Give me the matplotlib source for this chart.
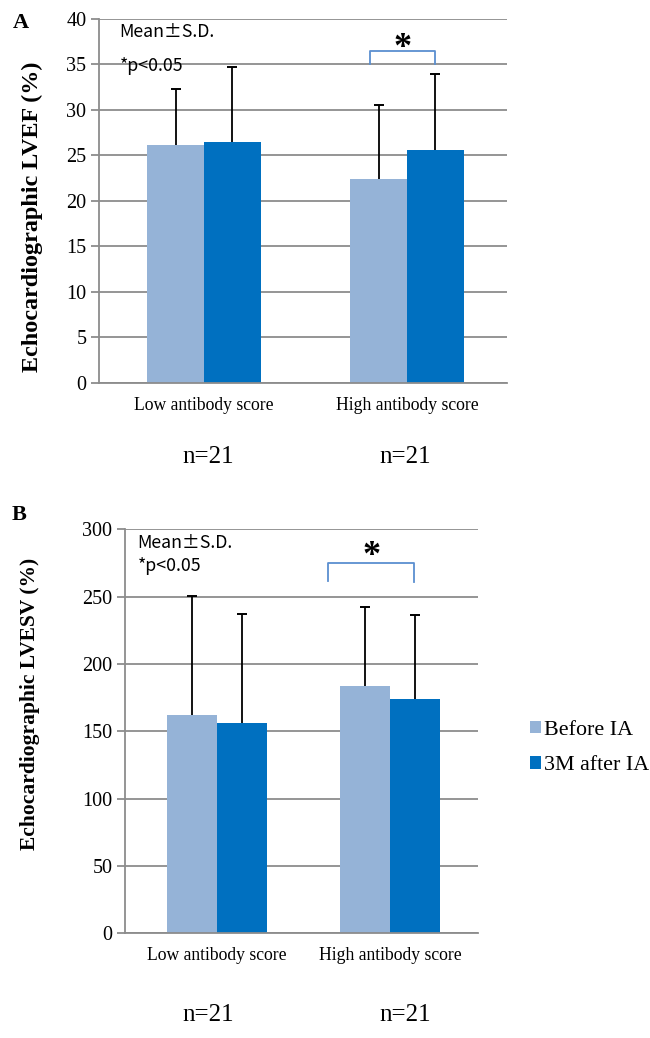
import numpy as np
import matplotlib as mpl
mpl.use('Agg')
import matplotlib.pyplot as plt

# data
groups = ['Low antibody score', 'High antibody score']
series = ['Before IA', '3M after IA']
n_labels = ['n=21', 'n=21']

lvef_before = [26.1, 22.4]
lvef_before_sd = [6.2, 8.1]
lvef_after = [26.5, 25.6]
lvef_after_sd = [8.2, 8.3]

lvesv_before = [162.1, 183.6]
lvesv_before_sd = [88.3, 58.7]
lvesv_after = [155.9, 173.7]
lvesv_after_sd = [80.9, 62.6]

light = '#95B3D7'
dark = '#0070C0'
grid_c = '#8c8c8c'
bracket_c = '#5b8fd0'
serif = ['Liberation Serif', 'DejaVu Serif']
sans = ['Noto Sans CJK JP', 'DejaVu Sans']


def upper_err(ax, x, y, sd):
    # only the upper half of the S.D. bar, like the original
    top = np.array(y) + np.array(sd)
    ax.vlines(x, y, top, color='black', lw=1.3, zorder=3)
    ax.plot(x, top, ls='', marker='_', ms=7, mew=1.4, color='black', zorder=3)


def panel(ax, before, before_sd, after, after_sd, ymax, ystep, width, ylabel, ylsize):
    x = np.arange(len(groups))
    ax.bar(x - width / 2, before, width, color=light, label=series[0], zorder=2)
    ax.bar(x + width / 2, after, width, color=dark, label=series[1], zorder=2)
    upper_err(ax, x - width / 2, before, before_sd)
    upper_err(ax, x + width / 2, after, after_sd)
    ax.set_ylim(0, ymax)
    ax.set_yticks(np.arange(0, ymax + 1, ystep))
    ax.yaxis.grid(True, color=grid_c, linewidth=1.3, zorder=0)
    ax.set_axisbelow(True)
    for s in ['top', 'right']:
        ax.spines[s].set_visible(False)
    ax.spines['left'].set_color(grid_c)
    ax.spines['left'].set_linewidth(1.3)
    ax.spines['bottom'].set_color(grid_c)
    ax.spines['bottom'].set_linewidth(1.3)
    ax.tick_params(axis='y', length=6, color=grid_c, width=1.3, pad=3, labelsize=14.5)
    ax.tick_params(axis='x', length=0, pad=10, labelsize=12.7)
    ax.set_xticks(x)
    ax.set_xticklabels(groups, family=serif)
    for lab in ax.get_yticklabels():
        lab.set_family(serif)
    ax.set_ylabel(ylabel, family=serif, fontweight='bold', fontsize=ylsize)
    return x


fig = plt.figure(figsize=(6.5, 10.38), dpi=100)

# panel A
ax1 = fig.add_axes([0.1523, 0.6313, 0.6277, 0.3504])
w1 = 0.28
x1 = panel(ax1, lvef_before, lvef_before_sd, lvef_after, lvef_after_sd, 40, 5, w1,
           'Echocardiographic LVEF (%)', 17.4)
ax1.set_xlim(-0.517, 1.493)
ax1.yaxis.set_label_coords(-0.137, 0.456)
bl, br = x1[1] - w1 / 2 - 0.042, x1[1] + w1 / 2
ax1.plot([bl, bl, br, br], [35.0, 36.5, 36.5, 35.0], color=bracket_c, lw=1.3, zorder=3)
ax1.text((bl + br) / 2, 35.8, '*', ha='center', va='baseline', fontsize=26,
         fontweight='bold', family=serif)
ax1.text(0.05, 0.965, 'Mean±S.D.', transform=ax1.transAxes, ha='left', va='center',
         fontsize=12.8, family=sans)
ax1.text(0.05, 0.872, '*p<0.05', transform=ax1.transAxes, ha='left', va='center',
         fontsize=12.8, family=sans)

# panel B
ax2 = fig.add_axes([0.1923, 0.1009, 0.5431, 0.3892])
w2 = 0.287
x2 = panel(ax2, lvesv_before, lvesv_before_sd, lvesv_after, lvesv_after_sd, 300, 50, w2,
           'Echocardiographic LVESV (%)', 15.5)
ax2.set_xlim(-0.532, 1.509)
ax2.yaxis.set_label_coords(-0.24, 0.5676)
bl, br = x2[1] - w2 - 0.07, x2[1] + w2 / 2 - 0.005
ax2.plot([bl, bl, br, br], [261.5, 274.7, 274.7, 260.5], color=bracket_c, lw=1.3, zorder=3)
ax2.text((bl + br) / 2, 273.5, '*', ha='center', va='baseline', fontsize=26,
         fontweight='bold', family=serif)
ax2.text(0.035, 0.965, 'Mean±S.D.', transform=ax2.transAxes, ha='left', va='center',
         fontsize=12.8, family=sans)
ax2.text(0.035, 0.91, '*p<0.05', transform=ax2.transAxes, ha='left', va='center',
         fontsize=12.8, family=sans)

leg = fig.legend(*ax2.get_legend_handles_labels(), loc='center left',
                 bbox_to_anchor=(0.8085, 0.2795), frameon=False,
                 prop={'family': serif, 'size': 15.8}, handlelength=0.5,
                 handleheight=0.5, handletextpad=0.15, labelspacing=0.75,
                 borderaxespad=0, borderpad=0.2)

# panel letters and group sizes
fig.text(0.02, 1 - 23 / 1038, 'A', ha='left', va='center', fontsize=16,
         fontweight='bold', family=serif)
fig.text(0.018, 1 - 515 / 1038, 'B', ha='left', va='center', fontsize=16,
         fontweight='bold', family=serif)
for xf, lab in zip([0.32, 0.623], n_labels):
    fig.text(xf, 1 - 457 / 1038, lab, ha='center', va='center', fontsize=18, family=serif)
    fig.text(xf, 1 - 1015 / 1038, lab, ha='center', va='center', fontsize=18, family=serif)

fig.savefig('out.png', dpi=100)
plt.close(fig)
